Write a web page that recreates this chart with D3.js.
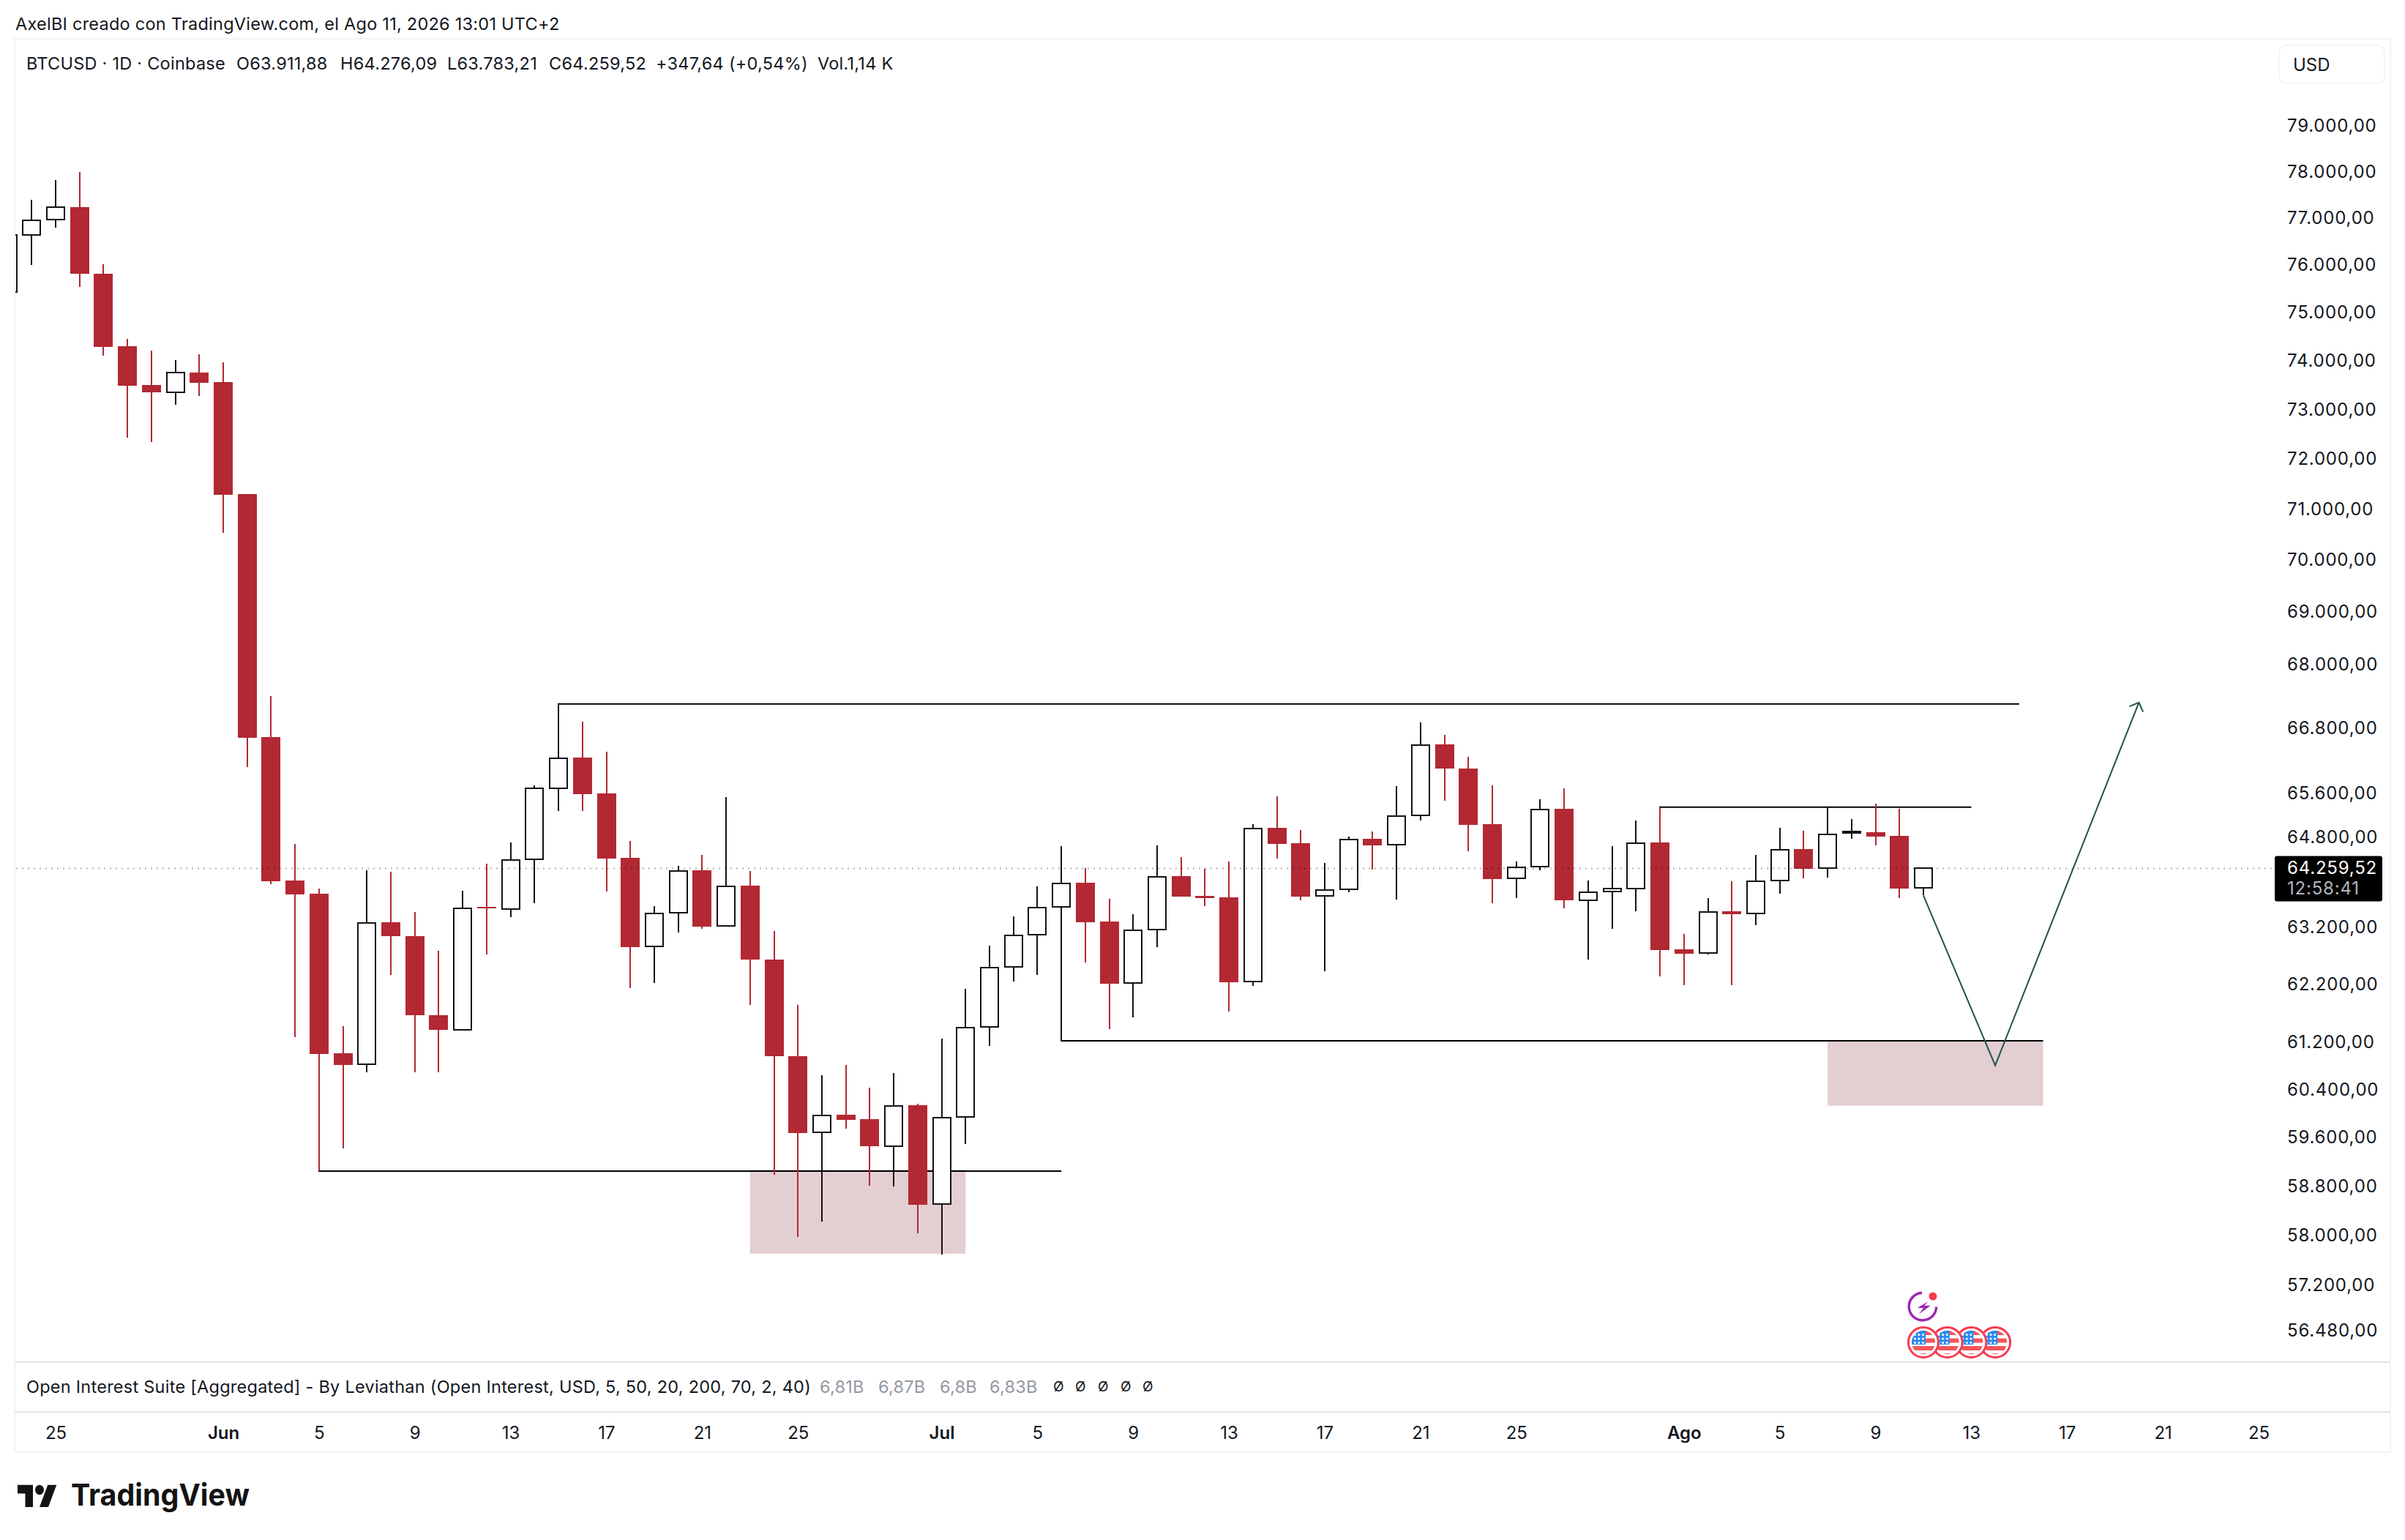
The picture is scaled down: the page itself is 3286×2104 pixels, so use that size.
<!DOCTYPE html>
<html>
  <head>
    <meta charset="utf-8">
    <title>BTCUSD 1D</title>
    <script src="https://cdnjs.cloudflare.com/ajax/libs/d3/7.8.5/d3.min.js"></script>
    <style>
      body {
        overflow: hidden;
        margin: 0px;
        background: #fff;
      }

      text {
        font-family: Inter, "Liberation Sans", sans-serif;
        fill: #131722;
      }

      .wick, .bar {
        shape-rendering: crispEdges;
      }

      .frame {
        stroke: #f0f3f6;
        stroke-width: 2px;
        fill: none;
        shape-rendering: crispEdges;
      }

      .separator {
        stroke: #e0e3eb;
        stroke-width: 2px;
        shape-rendering: crispEdges;
      }

      .pane-text {
        font-size: 23.5px;
        letter-spacing: 0.25px;
        dominant-baseline: central;
      }
    </style>
  </head>
  <body>
    <svg id="container" width="3286" height="2104"></svg>

    <script type="text/javascript">
      // daily candles, one entry per day starting at firstDay
      var firstDay = '2026-05-23';

      var opens = [
        75450, 76661, 76989, 77257, 75837, 74324, 73525, 73376, 73779,
        73585, 71325, 66654, 64043, 63809, 61035, 60849, 63303, 63059, 61688,
        61435, 63575, 63536, 64423, 65711, 66275, 65617, 64450, 62875, 63471,
        64226, 63239, 63952, 62642, 60985, 59706, 59999, 59926, 59475, 60159,
        58526, 59962, 61485, 62521, 63090, 63575, 64004, 63316, 62236, 63171,
        64124, 63770, 63744, 62266, 64991, 64713, 63765, 63887, 64792, 64681,
        65214, 66519, 66079, 65058, 64078, 64290, 65337, 63692, 63844, 63900,
        64726, 62828, 62764, 63497, 63458, 64039, 64608, 64266, 64905, 64912,
        64845, 63911.88
      ];
      var highs = [
        76700, 77414, 77841, 78016, 76038, 74476, 74233, 74035, 74157,
        73989, 71325, 67423, 64700, 63900, 61497, 64226, 64200, 63484, 62802,
        63861, 64345, 64726, 65764, 67271, 66941, 66383, 64752, 63588, 64306,
        64502, 65550, 64213, 63149, 61862, 60664, 60836, 60454, 60701, 60183,
        61285, 62139, 62892, 63406, 63939, 64660, 64265, 63718, 63445, 64673,
        64463, 64258, 64384, 65058, 65564, 64952, 64358, 64832, 64925, 65751,
        66928, 66695, 66289, 65767, 64384, 65510, 65711, 64043, 64661, 65124,
        65367, 63098, 63731, 64030, 64496, 64991, 64941, 65363, 65151, 65430,
        65337, 64276.09
      ];
      var lows = [
        75400, 76015, 76817, 75559, 74126, 72451, 72368, 73113, 73301,
        70558, 66099, 63978, 61310, 59064, 59439, 60707, 62375, 60718, 60707,
        61435, 62738, 63399, 63646, 65301, 65301, 63852, 62155, 62246, 63127,
        63188, 63239, 61866, 59007, 57992, 58241, 59772, 58818, 58807, 58051,
        57708, 59515, 61164, 62267, 62386, 61247, 62592, 61450, 61642, 62870,
        63760, 63591, 61753, 62196, 64441, 63695, 62450, 63840, 64244, 63710,
        65119, 65485, 64568, 63640, 63735, 64229, 63550, 62650, 63190, 63497,
        62356, 62203, 62743, 62203, 63252, 63809, 64083, 64095, 64792, 64673,
        63735, 63783.21
      ];
      var closes = [
        76661, 76973, 77249, 75829, 74309, 73510, 73367, 73779, 73570,
        71310, 66641, 64030, 63796, 61023, 60842, 63290, 63059, 61680, 61435,
        63549, 63549, 64416, 65704, 66261, 65604, 64441, 62869, 63461, 64213,
        63226, 63945, 62642, 60979, 59693, 59987, 59917, 59469, 60146, 58514,
        59950, 61472, 62509, 63072, 63562, 63991, 63303, 62228, 63166, 64113,
        63760, 63735, 62260, 64981, 64702, 63760, 63874, 64783, 64677, 65204,
        66509, 66079, 65047, 64069, 64279, 65326, 63686, 63839, 63895, 64717,
        62816, 62752, 63487, 63446, 64034, 64596, 64254, 64874, 64920, 64833,
        63900, 64259.52
      ];

      var priceTicks = [
        79000, 78000, 77000, 76000, 75000, 74000, 73000, 72000, 71000, 70000,
        69000, 68000, 66800, 65600, 64800, 63200, 62200, 61200, 60400, 59600,
        58800, 58000, 57200, 56480
      ];
      var dateTicks = [
        '2026-05-25', '2026-06-01', '2026-06-05', '2026-06-09', '2026-06-13',
        '2026-06-17', '2026-06-21', '2026-06-25', '2026-07-01', '2026-07-05',
        '2026-07-09', '2026-07-13', '2026-07-17', '2026-07-21', '2026-07-25',
        '2026-08-01', '2026-08-05', '2026-08-09', '2026-08-13', '2026-08-17',
        '2026-08-21', '2026-08-25'
      ];
      var monthNames = { 5: 'Jun', 6: 'Jul', 7: 'Ago' };

      // drawings on the chart
      var levelStarts = ['2026-06-05', '2026-06-15', '2026-07-06', '2026-07-31'];
      var levelEnds = ['2026-07-06', '2026-08-15', '2026-08-16', '2026-08-13'];
      var levelPrices = [59064, 67271, 61247, 65367];

      var zoneStarts = ['2026-06-23', '2026-08-07'];
      var zoneEnds = ['2026-07-02', '2026-08-16'];
      var zoneTops = [59088, 61247];
      var zoneBottoms = [57720, 60150];

      var arrowDates = ['2026-08-11', '2026-08-14', '2026-08-20'];
      var arrowPrices = [63778, 60829, 67299];

      var flagDates = ['2026-08-11', '2026-08-12', '2026-08-13', '2026-08-14'];
      var boltDate = '2026-08-11';

      var lastPrice = 64259.52;
      var countdown = '12:58:41';

      var titleText = 'AxelBI creado con TradingView.com, el Ago 11, 2026 13:01 UTC+2';
      var legendTexts = ['BTCUSD · 1D · Coinbase', 'O63.911,88', 'H64.276,09', 'L63.783,21', 'C64.259,52', '+347,64 (+0,54%)', 'Vol.1,14 K'];
      var legendX = [36, 323, 465, 611, 750, 896, 1117];
      var oiTitle = 'Open Interest Suite [Aggregated] - By Leviathan (Open Interest, USD, 5, 50, 20, 200, 70, 2, 40)';
      var oiValues = ['6,81B', '6,87B', '6,8B', '6,83B'];
      var oiValueX = [1120, 1200, 1284, 1352];
      var oiEmptyX = [1439, 1469, 1500, 1531, 1561];

      var red = '#b22833', ink = '#131313', arrowGreen = '#22524a';
      var panel = { left: 20, top: 53, right: 3266, bottom: 1984, chartRight: 3106, chartBottom: 1861, paneBottom: 1929 };

      var parse = d3.utcParse('%Y-%m-%d');
      var candles = opens.map(function(o, i) {
        return {
          date: d3.utcDay.offset(parse(firstDay), i),
          open: o, high: highs[i], low: lows[i], close: closes[i]
        };
      });

      var x = d3.scaleUtc()
        .domain([parse('2026-05-25'), parse('2026-08-25')])
        .range([76, 3086]);
      var y = d3.scaleLog()
        .domain([79000, 56480])
        .range([173.5, 1819.4]);

      var es = d3.formatLocale({ decimal: ',', thousands: '.', grouping: [3], currency: ['', ''] });
      var priceFormat = es.format(',.2f');

      var svg = d3.select('#container');

      svg.append('rect').attr('width', 3286).attr('height', 2104).attr('fill', '#fff');

      svg.append('defs').append('clipPath').attr('id', 'chart-clip')
        .append('rect')
        .attr('x', panel.left + 1).attr('y', panel.top)
        .attr('width', panel.chartRight - panel.left - 1)
        .attr('height', panel.chartBottom - panel.top);

      /*
        Frame and separators
      */
      svg.append('rect')
        .attr('class', 'frame')
        .attr('x', panel.left).attr('y', panel.top)
        .attr('width', panel.right - panel.left)
        .attr('height', panel.bottom - panel.top);

      svg.selectAll('.separator')
        .data([panel.chartBottom, panel.paneBottom])
        .enter().append('line')
        .attr('class', 'separator')
        .attr('x1', panel.left).attr('x2', panel.right)
        .attr('y1', function(d) { return d; }).attr('y2', function(d) { return d; });

      svg.append('text')
        .attr('class', 'pane-text')
        .attr('x', 21).attr('y', 32)
        .text(titleText);

      var chart = svg.append('g').attr('clip-path', 'url(#chart-clip)');

      /*
        Zones and level lines sit behind the candles
      */
      chart.selectAll('.zone')
        .data(zoneStarts)
        .enter().append('rect')
        .attr('class', 'zone')
        .attr('fill', '#e3ced2')
        .attr('x', function(d) { return x(parse(d)); })
        .attr('y', function(d, i) { return y(zoneTops[i]); })
        .attr('width', function(d, i) { return x(parse(zoneEnds[i])) - x(parse(d)); })
        .attr('height', function(d, i) { return y(zoneBottoms[i]) - y(zoneTops[i]); });

      chart.selectAll('.level')
        .data(levelStarts)
        .enter().append('line')
        .attr('class', 'level')
        .attr('stroke', '#000')
        .attr('stroke-width', 2)
        .attr('x1', function(d) { return x(parse(d)) - 1; })
        .attr('x2', function(d, i) { return x(parse(levelEnds[i])); })
        .attr('y1', function(d, i) { return y(levelPrices[i]); })
        .attr('y2', function(d, i) { return y(levelPrices[i]); });

      /*
        Candles
      */
      var candle = chart.selectAll('.candle')
        .data(candles)
        .enter().append('g')
        .attr('class', 'candle');

      candle.append('line')
        .attr('class', 'wick')
        .attr('stroke', function(d) { return d.close >= d.open ? ink : red; })
        .attr('stroke-width', 2)
        .attr('x1', function(d) { return Math.round(x(d.date)); })
        .attr('x2', function(d) { return Math.round(x(d.date)); })
        .attr('y1', function(d) { return y(d.high); })
        .attr('y2', function(d) { return y(d.low); });

      candle.append('rect')
        .attr('class', 'bar')
        .attr('x', function(d) { return Math.round(x(d.date)) - (d.close >= d.open ? 12 : 13); })
        .attr('y', function(d) { return y(Math.max(d.open, d.close)); })
        .attr('width', function(d) { return d.close >= d.open ? 24 : 26; })
        .attr('height', function(d) { return Math.max(2, y(Math.min(d.open, d.close)) - y(Math.max(d.open, d.close))); })
        .attr('fill', function(d) { return d.close >= d.open ? '#fff' : red; })
        .attr('stroke', function(d) { return d.close >= d.open ? ink : 'none'; })
        .attr('stroke-width', 2);

      /*
        Projection arrow
      */
      var arrowPoints = arrowDates.map(function(d, i) {
        return [x(parse(d)), y(arrowPrices[i])];
      });
      var tip = arrowPoints[2], tail = arrowPoints[1];
      var heading = Math.atan2(tail[1] - tip[1], tail[0] - tip[0]);
      var barb = function(sign) {
        return [tip[0] + 14 * Math.cos(heading + sign * 0.8), tip[1] + 14 * Math.sin(heading + sign * 0.8)];
      };
      var arrowLine = d3.line();

      chart.append('path')
        .attr('d', arrowLine(arrowPoints))
        .attr('fill', 'none').attr('stroke', arrowGreen).attr('stroke-width', 2);
      chart.append('path')
        .attr('d', arrowLine([barb(1), tip, barb(-1)]))
        .attr('fill', 'none').attr('stroke', arrowGreen).attr('stroke-width', 2);

      /*
        Last price line
      */
      svg.append('line')
        .attr('x1', panel.left + 2).attr('x2', panel.chartRight)
        .attr('y1', y(lastPrice)).attr('y2', y(lastPrice))
        .attr('stroke', '#000').attr('stroke-opacity', 0.3)
        .attr('stroke-width', 2).attr('stroke-dasharray', '2 6');

      /*
        Axes
      */
      var priceAxis = d3.axisRight(y)
        .tickValues(priceTicks)
        .tickFormat(priceFormat)
        .tickSize(0)
        .tickPadding(0);

      var priceG = svg.append('g')
        .attr('transform', 'translate(3125,0)')
        .call(priceAxis);
      priceG.select('.domain').remove();
      priceG.selectAll('text')
        .attr('font-size', 24)
        .attr('font-family', 'Inter')
        .attr('letter-spacing', 0.8)
        .attr('dy', '0.32em')
        .attr('y', -1.5);

      var timeAxis = d3.axisBottom(x)
        .tickValues(dateTicks.map(parse))
        .tickFormat(function(d) {
          return d.getUTCDate() === 1 ? monthNames[d.getUTCMonth()] : String(d.getUTCDate());
        })
        .tickSize(0)
        .tickPadding(0);

      var timeG = svg.append('g')
        .attr('transform', 'translate(0,1958)')
        .call(timeAxis);
      timeG.select('.domain').remove();
      timeG.selectAll('text')
        .attr('font-size', 24)
        .attr('font-family', 'Inter')
        .attr('dy', '0.32em')
        .attr('y', 0)
        .attr('font-weight', function(d) { return d.getUTCDate() === 1 ? 600 : 400; });

      /*
        Legend lines
      */
      svg.selectAll('.legend')
        .data(legendTexts)
        .enter().append('text')
        .attr('class', 'legend pane-text')
        .attr('x', function(d, i) { return legendX[i]; })
        .attr('y', 86)
        .text(function(d) { return d; });

      svg.append('text')
        .attr('class', 'pane-text')
        .attr('x', 36).attr('y', 1894)
        .text(oiTitle);

      svg.selectAll('.oi-value')
        .data(oiValues)
        .enter().append('text')
        .attr('class', 'oi-value pane-text')
        .attr('x', function(d, i) { return oiValueX[i]; })
        .attr('y', 1894)
        .style('fill', '#9598a1')
        .text(function(d) { return d; });

      svg.selectAll('.oi-empty')
        .data(oiEmptyX)
        .enter().append('text')
        .attr('class', 'oi-empty pane-text')
        .attr('x', function(d) { return d; })
        .attr('y', 1894)
        .style('font-size', '19px')
        .text('Ø');

      /*
        USD box and last price tag
      */
      svg.append('rect')
        .attr('x', 3114).attr('y', 62).attr('width', 144).attr('height', 52).attr('rx', 9)
        .attr('fill', '#fff').attr('stroke', '#f0f3f6').attr('stroke-width', 1.5);
      svg.append('text')
        .attr('x', 3133).attr('y', 88)
        .attr('dominant-baseline', 'central')
        .attr('font-size', 24)
        .text('USD');

      svg.append('rect')
        .attr('x', 3108).attr('y', y(lastPrice) - 17).attr('width', 147).attr('height', 62).attr('rx', 3)
        .attr('fill', '#000');
      svg.append('text')
        .attr('x', 3125).attr('y', y(lastPrice) - 1)
        .attr('dominant-baseline', 'central')
        .attr('font-size', 24).attr('letter-spacing', 0.8)
        .style('fill', '#fff')
        .text(priceFormat(lastPrice));
      svg.append('text')
        .attr('x', 3125).attr('y', y(lastPrice) + 27)
        .attr('dominant-baseline', 'central')
        .attr('font-size', 24).attr('letter-spacing', 0.8)
        .style('fill', '#b2b5be')
        .text(countdown);

      /*
        Event markers
      */
      var boltG = svg.append('g')
        .attr('transform', 'translate(' + (x(parse(boltDate)) - 1) + ',1785)');
      boltG.append('path')
        .attr('d', d3.arc()({ innerRadius: 17, outerRadius: 20.5, startAngle: 1.6, endAngle: 2 * Math.PI - 0.05 }))
        .attr('fill', '#9c27b0');
      boltG.append('path')
        .attr('d', 'M7.7,-7L-7.3,2L1,2L-5,10.3L11,-1.3L2,-1.3Z')
        .attr('fill', '#9c27b0');
      boltG.append('circle')
        .attr('cx', 14).attr('cy', -14).attr('r', 5.5)
        .attr('fill', '#f7394d');

      var flagRows = [-16, -5.5, 5, 15];
      var flag = svg.selectAll('.flag')
        .data(flagDates.slice().reverse())
        .enter().append('g')
        .attr('class', 'flag')
        .attr('transform', function(d) { return 'translate(' + x(parse(d)) + ',1834)'; });

      flag.append('circle')
        .attr('r', 20.5)
        .attr('fill', '#fff').attr('stroke', '#f7394d').attr('stroke-width', 3);

      flag.each(function(d, i) {
        var g = d3.select(this);
        var clipId = 'flag-clip-' + i;
        g.append('clipPath').attr('id', clipId).append('circle').attr('r', 16);
        var inner = g.append('g').attr('clip-path', 'url(#' + clipId + ')');
        flagRows.forEach(function(top, k) {
          inner.append('rect')
            .attr('x', -17).attr('width', 34)
            .attr('y', top)
            .attr('height', k === 3 ? 7 : 6)
            .attr('fill', '#f5565b');
        });
        inner.append('rect')
          .attr('x', -16).attr('y', -16).attr('width', 19).attr('height', 19)
          .attr('fill', '#2a8cf0');
        d3.range(3).forEach(function(row) {
          d3.range(3).forEach(function(col) {
            inner.append('circle')
              .attr('cx', -11.5 + col * 5.5).attr('cy', -10.5 + row * 5.5).attr('r', 1.5)
              .attr('fill', '#fff');
          });
        });
      });

      /*
        TradingView logo
      */
      svg.append('g')
        .attr('transform', 'translate(24,2022) scale(1.5,1.68)')
        .append('path')
        .attr('d', 'M14 22H7V11H0V4h14v18zM28 22h-8l7.5-18h8L28 22zM20 4a4 4 0 1 0 0 8a4 4 0 0 0 0-8z')
        .attr('fill', '#131313');
      svg.append('text')
        .attr('x', 97).attr('y', 2057)
        .attr('font-size', 41).attr('font-weight', 700)
        .attr('textLength', 244).attr('lengthAdjust', 'spacingAndGlyphs')
        .style('fill', '#131313')
        .text('TradingView');
    </script>
  </body>
</html>
